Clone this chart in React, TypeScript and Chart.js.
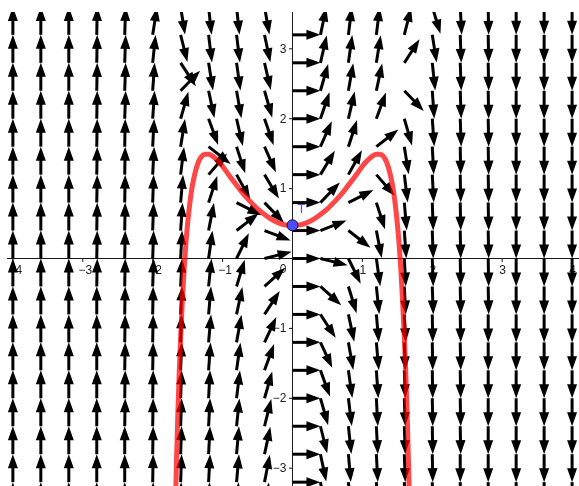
import { useEffect, useRef } from "react";
import { Chart, registerables } from "chart.js";

Chart.register(...registerables);

// ---- Data ----
// Direction field grid (tail of each arrow sits on a grid point)
const fieldXs = [-4, -3.6, -3.2, -2.8, -2.4, -2, -1.6, -1.2, -0.8, -0.4, 0, 0.4, 0.8, 1.2, 1.6, 2, 2.4, 2.8, 3.2, 3.6, 4];
const fieldYs = [3.6, 3.2, 2.8, 2.4, 2, 1.6, 1.2, 0.8, 0.4, 0, -0.4, -0.8, -1.2, -1.6, -2, -2.4, -2.8, -3.2, -3.6];
const fieldStep = 0.4;
// Arrow directions in degrees (0 = pointing right, 90 = pointing up), one row per fieldYs entry
const fieldAngles = [
  [90, 90, 90, 89, 87, 73, -81, -84, -84, -80, 0, 80, 84, 84, 81, -73, -87, -89, -90, -90, -90],
  [90, 90, 90, 89, 88, 81, -76, -83, -83, -78, 0, 78, 83, 83, 76, -81, -88, -89, -90, -90, -90],
  [90, 90, 90, 89, 88, 84, -57, -81, -82, -77, 0, 77, 82, 81, 57, -84, -88, -89, -90, -90, -90],
  [90, 90, 90, 89, 88, 86, 46, -78, -80, -74, 0, 74, 80, 78, -46, -86, -88, -89, -90, -90, -90],
  [90, 90, 90, 89, 88, 86, 74, -70, -77, -71, 0, 71, 77, 70, -74, -86, -88, -89, -90, -90, -90],
  [90, 90, 90, 89, 89, 87, 81, -38, -72, -66, 0, 66, 72, 38, -81, -87, -89, -89, -90, -90, -90],
  [90, 90, 90, 89, 89, 87, 83, 49, -61, -59, 0, 59, 61, -49, -83, -87, -89, -89, -90, -90, -90],
  [90, 90, 90, 89, 89, 88, 85, 72, -27, -46, 0, 46, 27, -72, -85, -88, -89, -89, -90, -90, -90],
  [90, 90, 90, 89, 89, 88, 86, 79, 38, -21, 0, 21, -38, -79, -86, -88, -89, -89, -90, -90, -90],
  [90, 90, 90, 89, 89, 88, 87, 82, 64, 14, 0, -14, -64, -82, -87, -88, -89, -89, -90, -90, -90],
  [90, 90, 90, 89, 89, 88, 87, 84, 73, 42, 0, -42, -73, -84, -87, -88, -89, -89, -90, -90, -90],
  [90, 90, 90, 90, 89, 89, 87, 85, 78, 57, 0, -57, -78, -85, -87, -89, -89, -90, -90, -90, -90],
  [90, 90, 90, 90, 89, 89, 88, 85, 80, 65, 0, -65, -80, -85, -88, -89, -89, -90, -90, -90, -90],
  [90, 90, 90, 90, 89, 89, 88, 86, 82, 70, 0, -70, -82, -86, -88, -89, -89, -90, -90, -90, -90],
  [90, 90, 90, 90, 89, 89, 88, 87, 83, 74, 0, -74, -83, -87, -88, -89, -89, -90, -90, -90, -90],
  [90, 90, 90, 90, 89, 89, 88, 87, 84, 76, 0, -76, -84, -87, -88, -89, -89, -90, -90, -90, -90],
  [90, 90, 90, 90, 90, 89, 88, 87, 85, 78, 0, -78, -85, -87, -88, -89, -90, -90, -90, -90, -90],
  [90, 90, 90, 90, 90, 89, 88, 87, 85, 79, 0, -79, -85, -87, -88, -89, -90, -90, -90, -90, -90],
  [90, 90, 90, 90, 90, 89, 89, 88, 86, 81, 0, -81, -86, -88, -89, -89, -90, -90, -90, -90, -90],
];

// Red solution curve through T
const curveXs = [
  -1.68, -1.66, -1.64, -1.62, -1.6, -1.575, -1.55, -1.525, -1.5, -1.45, -1.4, -1.35, -1.3, -1.25, -1.2, -1.15, -1.1, -1.05, -1.0,
  -0.9, -0.8, -0.7, -0.6, -0.5, -0.4, -0.3, -0.2, -0.1, 0,
  0.1, 0.2, 0.3, 0.4, 0.5, 0.6, 0.7, 0.8, 0.9,
  1.0, 1.05, 1.1, 1.15, 1.2, 1.25, 1.3, 1.35, 1.4, 1.45, 1.5, 1.525, 1.55, 1.575, 1.6, 1.62, 1.64, 1.66, 1.68,
];
const curveYs = [
  -3.75, -2.93, -2.23, -1.63, -1.12, -0.59, -0.15, 0.21, 0.5, 0.93, 1.2, 1.37, 1.46, 1.49, 1.49, 1.47, 1.43, 1.38, 1.32,
  1.18, 1.05, 0.92, 0.81, 0.71, 0.63, 0.56, 0.51, 0.48, 0.475,
  0.48, 0.51, 0.56, 0.63, 0.71, 0.81, 0.92, 1.05, 1.18,
  1.32, 1.38, 1.43, 1.47, 1.49, 1.49, 1.46, 1.37, 1.2, 0.93, 0.5, 0.21, -0.15, -0.59, -1.12, -1.63, -2.23, -2.93, -3.75,
];

const pointT = { x: 0, y: 0.475, label: "T" };

const xTickValues = [-4, -3, -2, -1, 1, 2, 3, 4];
const yTickValues = [3, 2, 1, -1, -2, -3];

// ---- View ----
const X_MIN = -4.084;
const X_MAX = 4.099;
const Y_MIN = -3.255;
const Y_MAX = 3.527;

const LABEL_FONT = "12px 'Liberation Sans', Arial, sans-serif";

function fmt(v: number) {
  return v < 0 ? "\u2212" + Math.abs(v) : String(v);
}

const fieldPlugin = {
  id: "directionField",
  beforeDatasetsDraw(chart: any) {
    const { ctx, chartArea: a, scales } = chart;
    const xs = scales.x;
    const ys = scales.y;
    ctx.save();
    ctx.beginPath();
    ctx.rect(a.left, a.top, a.right - a.left, a.bottom - a.top);
    ctx.clip();

    const x0 = xs.getPixelForValue(0);
    const y0 = ys.getPixelForValue(0);

    // axes
    ctx.strokeStyle = "#1a1a1a";
    ctx.lineWidth = 1;
    ctx.beginPath();
    ctx.moveTo(a.left, y0);
    ctx.lineTo(a.right, y0);
    ctx.moveTo(x0, a.top);
    ctx.lineTo(x0, a.bottom);
    ctx.stroke();

    // ticks
    ctx.beginPath();
    xTickValues.forEach((v) => {
      const px = xs.getPixelForValue(v);
      ctx.moveTo(px, y0);
      ctx.lineTo(px, y0 + 3.5);
    });
    yTickValues.forEach((v) => {
      const py = ys.getPixelForValue(v);
      ctx.moveTo(x0 - 3.5, py);
      ctx.lineTo(x0, py);
    });
    ctx.stroke();

    // labels
    ctx.fillStyle = "#222";
    ctx.font = LABEL_FONT;
    ctx.textBaseline = "middle";
    ctx.textAlign = "center";
    xTickValues.forEach((v) => {
      const px = xs.getPixelForValue(v);
      ctx.fillText(fmt(v), px + (v < 0 ? 2.5 : 0.5), y0 + 12);
    });
    ctx.textAlign = "right";
    yTickValues.forEach((v) => {
      const py = ys.getPixelForValue(v);
      ctx.fillText(fmt(v), x0 - 6, py + 0.5);
    });
    ctx.fillText("0", x0 - 6, y0 + 11);

    // arrows
    const headLen = 14;
    const headHalf = 5;
    ctx.fillStyle = "#000";
    ctx.strokeStyle = "#000";
    ctx.lineWidth = 3;
    ctx.lineCap = "butt";
    fieldYs.forEach((gy, j) => {
      fieldXs.forEach((gx, i) => {
        const ang = (fieldAngles[j][i] * Math.PI) / 180;
        const tx = xs.getPixelForValue(gx);
        const ty = ys.getPixelForValue(gy);
        const len = Math.abs(xs.getPixelForValue(gx + fieldStep) - tx);
        const dx = Math.cos(ang);
        const dy = -Math.sin(ang);
        const bx = tx + dx * (len - headLen);
        const by = ty + dy * (len - headLen);
        const hx = tx + dx * len;
        const hy = ty + dy * len;
        ctx.beginPath();
        ctx.moveTo(tx, ty);
        ctx.lineTo(bx + dx * 1, by + dy * 1);
        ctx.stroke();
        ctx.beginPath();
        ctx.moveTo(hx, hy);
        ctx.lineTo(bx - dy * headHalf, by + dx * headHalf);
        ctx.lineTo(bx + dy * headHalf, by - dx * headHalf);
        ctx.closePath();
        ctx.fill();
      });
    });
    ctx.restore();
  },
  afterDatasetsDraw(chart: any) {
    const { ctx, scales } = chart;
    const px = scales.x.getPixelForValue(pointT.x);
    const py = scales.y.getPixelForValue(pointT.y);
    ctx.save();
    ctx.fillStyle = "#4d4dff";
    ctx.font = "13px 'Liberation Sans', Arial, sans-serif";
    ctx.textAlign = "left";
    ctx.textBaseline = "middle";
    ctx.fillText(pointT.label, px + 5, py - 16);
    ctx.restore();
  },
};

export default function App() {
  const canvasRef = useRef<HTMLCanvasElement | null>(null);

  useEffect(() => {
    const canvas = canvasRef.current;
    if (!canvas) return;
    const chart = new Chart(canvas, {
      type: "scatter",
      data: {
        datasets: [
          {
            data: [{ x: pointT.x, y: pointT.y }],
            pointRadius: 5.5,
            pointBackgroundColor: "#4d4dff",
            pointBorderColor: "#111",
            pointBorderWidth: 1,
            showLine: false,
            clip: 0,
          } as any,
          {
            data: curveXs.map((x, i) => ({ x, y: curveYs[i] })),
            showLine: true,
            borderColor: "rgba(255,0,0,0.72)",
            borderWidth: 5,
            pointRadius: 0,
            cubicInterpolationMode: "monotone",
            borderCapStyle: "round",
            borderJoinStyle: "round",
            fill: false,
            clip: 0,
          } as any,
        ],
      },
      options: {
        animation: false,
        responsive: false,
        devicePixelRatio: 1,
        events: [],
        layout: { autoPadding: false, padding: { left: 7, top: 12, right: 0, bottom: 0 } },
        scales: {
          x: { type: "linear", min: X_MIN, max: X_MAX, display: false },
          y: { type: "linear", min: Y_MIN, max: Y_MAX, display: false },
        },
        plugins: { legend: { display: false }, tooltip: { enabled: false } },
      },
      plugins: [fieldPlugin],
    });
    return () => chart.destroy();
  }, []);

  return (
    <div style={{ position: "fixed", left: 0, top: 0, width: 579, height: 486, background: "#fff" }}>
      <canvas ref={canvasRef} width={579} height={486} style={{ display: "block", width: 579, height: 486 }} />
    </div>
  );
}
